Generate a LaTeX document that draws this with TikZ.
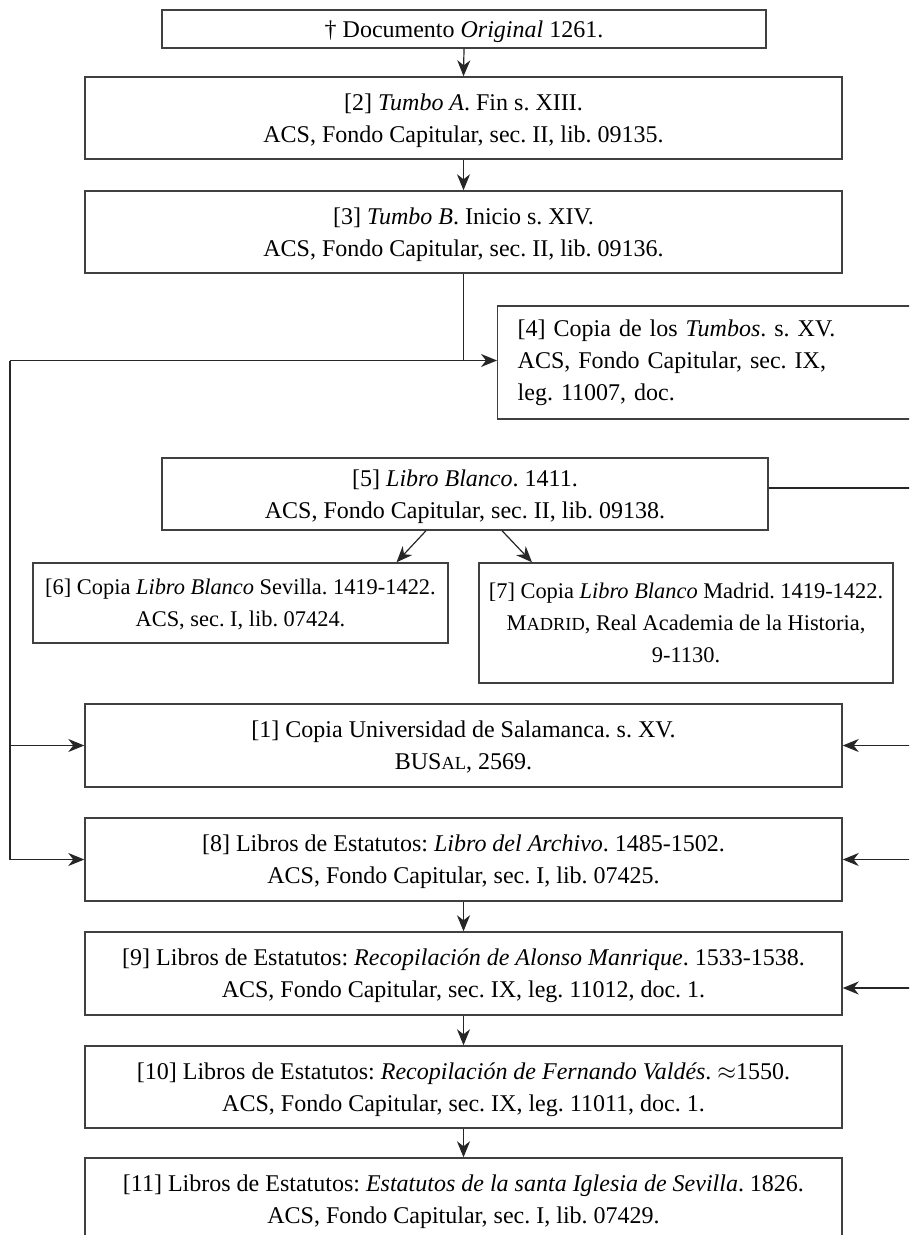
\documentclass[tikz,border=0pt]{standalone}
\usepackage{fontspec}
\setmainfont{Liberation Serif}
\usetikzlibrary{positioning}
\usetikzlibrary{arrows.meta}
\newcommand{\fsc}[1]{{\fontsize{9.2}{16}\selectfont\uppercase{#1}}}

\begin{document}
\begin{tikzpicture}[x=0.5pt,y=-0.5pt,
        doc/.style={rectangle,draw=black!75,line width=0.7pt,align=center,inner sep=0pt,
            font=\fontsize{12}{16}\selectfont\frenchspacing},
        wide/.style={doc,text depth=0pt,minimum width=378.5pt,minimum height=41.5pt},
        copy/.style={doc,text depth=0pt,font=\fontsize{11.2}{16}\selectfont\frenchspacing},
        arr/.style={line width=0.6pt,black!85,-{Stealth[length=8pt,width=6.5pt,inset=2.5pt]}},
        ln/.style={line width=0.6pt,black!85}
        ]
        \useasboundingbox (0,0) rectangle (909,1235);
        \clip (0,0) rectangle (909,1235);
        \node (orig) [doc,text depth=0pt,minimum width=302pt,minimum height=19pt] at (464,29) {\textdagger\ Documento \textit{Original} 1261.};
        \node (tumboa) [wide,minimum height=41pt] at (463.5,118) {[2] \textit{Tumbo A}. Fin s. XIII.\\ACS, Fondo Capitular, sec. II, lib. 09135.};
        \node (tumbob) [wide,minimum height=41pt] at (463.5,232) {[3] \textit{Tumbo B}. Inicio s. XIV.\\ACS, Fondo Capitular, sec. II, lib. 09136.};
        \node (copia) [doc,align=left,text width=201.5pt,inner xsep=10pt,minimum height=56.5pt,anchor=west] at (497,362.5) {[4] Copia de los \textit{Tumbos}. s. XV.\\ACS, Fondo Capitular, sec. IX,\\leg. 11007, doc.};
        \node (blanco) [doc,text depth=0pt,minimum width=303pt,minimum height=36pt] at (465,494) {[5] \textit{Libro Blanco}. 1411.\\ACS, Fondo Capitular, sec. II, lib. 09138.};
        \node (sevilla) [copy,minimum width=207.5pt,minimum height=40pt] at (240.5,603) {[6] Copia \textit{Libro Blanco} Sevilla. 1419-1422.\\ACS, sec. I, lib. 07424.};
        \node (madrid) [copy,minimum width=207pt,minimum height=60pt] at (686,623) {[7] Copia \textit{Libro Blanco} Madrid. 1419-1422.\\M\fsc{adrid}, Real Academia de la Historia,\\9-1130.};
        \node (salamanca) [wide] at (463.5,745.5) {[1] Copia Universidad de Salamanca. s. XV.\\BUS\fsc{al}, 2569.};
        \node (archivo) [wide] at (463.5,859.5) {[8] Libros de Estatutos: \textit{Libro del Archivo}. 1485-1502.\\ACS, Fondo Capitular, sec. I, lib. 07425.};
        \node (manrique) [wide] at (463.5,973.5) {[9] Libros de Estatutos: \textit{Recopilación de Alonso Manrique}. 1533-1538.\\ACS, Fondo Capitular, sec. IX, leg. 11012, doc. 1.};
        \node (valdes) [wide,minimum height=41pt] at (463.5,1087) {[10] Libros de Estatutos: \textit{Recopilación de Fernando Valdés}. $\approx$1550.\\ACS, Fondo Capitular, sec. IX, leg. 11011, doc. 1.};
        \node (estatutos) [wide] at (463.5,1199.5) {[11] Libros de Estatutos: \textit{Estatutos de la santa Iglesia de Sevilla}. 1826.\\ACS, Fondo Capitular, sec. I, lib. 07429.};
        \coordinate (split) at (463.5,360.5);
        \coordinate (lt) at (10,360.5);
        \coordinate (rt) at (930,488);
        \draw[arr] (orig.south) -- (tumboa.north);
        \draw[arr] (tumboa) -- (tumbob);
        \draw[ln] (tumbob) -- (split);
        \draw[arr] (split) -- (split -| copia.west);
        \draw[ln] (split) -- (lt);
        \draw[arr] (lt) |- (salamanca);
        \draw[arr] (lt) |- (archivo);
        \draw[ln] (blanco.east |- rt) -- (rt);
        \draw[arr] (rt) |- (salamanca);
        \draw[arr] (rt) |- (archivo);
        \draw[arr] (rt) |- ([yshift=-7.25pt]manrique.east);
        \draw[arr] ([xshift=-19.5pt]blanco.south) -- ([xshift=78pt]sevilla.north);
        \draw[arr] ([xshift=18.5pt]blanco.south) -- ([xshift=-77pt]madrid.north);
        \draw[arr] (archivo) -- (manrique);
        \draw[arr] (manrique) -- (valdes);
        \draw[arr] (valdes) -- (estatutos);
    \end{tikzpicture}
\end{document}
